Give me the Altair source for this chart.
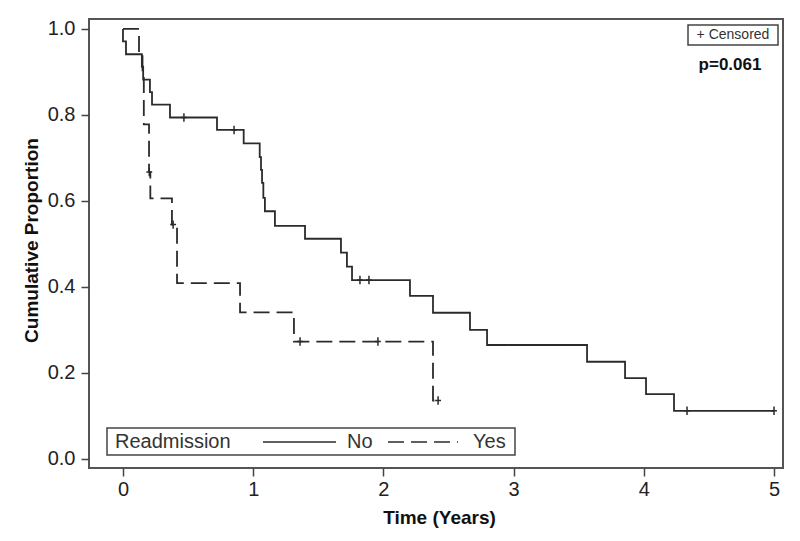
import altair as alt
import pandas as pd

# ---- data ----
groups = ["No", "Yes"]
no_time = [0, 0, 0.023, 0.145, 0.155, 0.207, 0.223, 0.361, 0.722, 0.927, 1.05, 1.06, 1.068,
           1.078, 1.09, 1.167, 1.398, 1.674, 1.72, 1.759, 2.204, 2.381, 2.665, 2.796, 3.564,
           3.856, 4.017, 4.232, 5.0]
no_surv = [1.0, 0.971, 0.941, 0.912, 0.882, 0.853, 0.824, 0.794, 0.765, 0.734, 0.702, 0.672, 0.642,
           0.607, 0.576, 0.542, 0.512, 0.480, 0.447, 0.416, 0.379, 0.340, 0.300, 0.265, 0.226,
           0.188, 0.151, 0.112, 0.112]
yes_time = [0, 0.123, 0.15, 0.16, 0.2, 0.21, 0.376, 0.415, 0.899, 1.313, 2.381, 2.42]
yes_surv = [1.0, 0.944, 0.889, 0.778, 0.667, 0.606, 0.545, 0.409, 0.341, 0.273, 0.136, 0.136]

no_cens_time = [0.468, 0.853, 1.82, 1.889, 4.332, 5.0]
no_cens_surv = [0.794, 0.765, 0.416, 0.416, 0.112, 0.112]
yes_cens_time = [0.202, 0.385, 1.36, 1.958, 2.42]
yes_cens_surv = [0.667, 0.545, 0.273, 0.273, 0.136]

x_ticks = [0, 1, 2, 3, 4, 5]
y_ticks = [0.0, 0.2, 0.4, 0.6, 0.8, 1.0]
legend_title = "Readmission"
censor_label = "+ Censored"
p_label = "p=0.061"

# ---- tables ----
rows = []
for g, ts, ss in [("No", no_time, no_surv), ("Yes", yes_time, yes_surv)]:
    for i, (t, s) in enumerate(zip(ts, ss)):
        rows.append({"group": g, "time": t, "surv": s, "idx": i})
lines_df = pd.DataFrame(rows)

cens_df = pd.DataFrame({
    "time": no_cens_time + yes_cens_time,
    "surv": no_cens_surv + yes_cens_surv,
})

FONT = "Liberation Sans"
INK = "#2b2b2b"

xscale = alt.Scale(domain=[-0.261, 5.069], nice=False, zero=False)
yscale = alt.Scale(domain=[-0.021, 1.023], nice=False, zero=False)

lines = alt.Chart(lines_df).mark_line(interpolate="step-after", color=INK, strokeWidth=1.8).encode(
    x=alt.X("time:Q", scale=xscale,
            axis=alt.Axis(values=x_ticks, format="d", title="Time (Years)", labelPadding=3,
                          titleX=350, titleY=49, titleBaseline="middle")),
    y=alt.Y("surv:Q", scale=yscale,
            axis=alt.Axis(values=y_ticks, format=".1f", title="Cumulative Proportion", labelPadding=6,
                          titleX=-58, titleY=221, titleBaseline="middle")),
    strokeDash=alt.StrokeDash("group:N", scale=alt.Scale(domain=groups, range=[[1, 0], [16, 7]]),
                              legend=None),
    detail="group:N",
    order=alt.Order("idx:Q"),
)

plus = "M-0.7,0H0.7M0,-1V1"
cens = alt.Chart(cens_df).mark_point(shape=plus, filled=False, color=INK, size=70,
                                      strokeWidth=1.5, opacity=1).encode(
    x=alt.X("time:Q", scale=xscale),
    y=alt.Y("surv:Q", scale=yscale),
)

one = pd.DataFrame({"k": [0]})

leg_box = alt.Chart(one).mark_rect(fill="white", stroke="#444", strokeWidth=1.5).encode(
    x=alt.value(18), x2=alt.value(426), y=alt.value(409), y2=alt.value(436))
leg_title = alt.Chart(pd.DataFrame({"label": [legend_title]})).mark_text(
    align="left", baseline="middle", font=FONT, fontSize=20, color="#333").encode(
    x=alt.value(26), y=alt.value(423), text="label:N")
leg_solid = alt.Chart(one).mark_rule(color=INK, strokeWidth=1.5).encode(
    x=alt.value(174), x2=alt.value(247), y=alt.value(423))
leg_dash = alt.Chart(one).mark_rule(color=INK, strokeWidth=1.5, strokeDash=[16, 7]).encode(
    x=alt.value(299), x2=alt.value(369), y=alt.value(423))
leg_no = alt.Chart(pd.DataFrame({"label": [groups[0]]})).mark_text(
    align="left", baseline="middle", font=FONT, fontSize=20, color="#333").encode(
    x=alt.value(258), y=alt.value(423), text="label:N")
leg_yes = alt.Chart(pd.DataFrame({"label": [groups[1]]})).mark_text(
    align="left", baseline="middle", font=FONT, fontSize=20, color="#333").encode(
    x=alt.value(384), y=alt.value(423), text="label:N")

cbox = alt.Chart(one).mark_rect(fill="white", stroke="#444", strokeWidth=1.5).encode(
    x=alt.value(599), x2=alt.value(689), y=alt.value(6), y2=alt.value(26))
ctext = alt.Chart(pd.DataFrame({"label": [censor_label]})).mark_text(
    align="center", baseline="middle", font=FONT, fontSize=14, color="#333").encode(
    x=alt.value(644), y=alt.value(16), text="label:N")
ptext = alt.Chart(pd.DataFrame({"label": [p_label]})).mark_text(
    align="center", baseline="middle", font=FONT, fontSize=17, fontWeight="bold", color="#111").encode(
    x=alt.value(641), y=alt.value(46), text="label:N")

chart = alt.layer(lines, cens, leg_box, leg_title, leg_solid, leg_dash, leg_no, leg_yes,
                  cbox, ctext, ptext).properties(
    width=694, height=449,
    autosize=alt.AutoSizeParams(type="none"),
    padding={"left": 81, "top": 11, "right": 9, "bottom": 62},
    background="white",
).configure_view(
    stroke="#555", strokeWidth=2,
).configure_axis(
    domain=False, grid=False, tickColor="#444", tickWidth=1.5, tickSize=8,
    labelFont=FONT, labelFontSize=20, labelColor="#222",
    titleFont=FONT, titleFontSize=19, titleFontWeight="bold", titleColor="#111",
)

chart.save("out.html", embed_options={"renderer": "svg", "actions": False})
